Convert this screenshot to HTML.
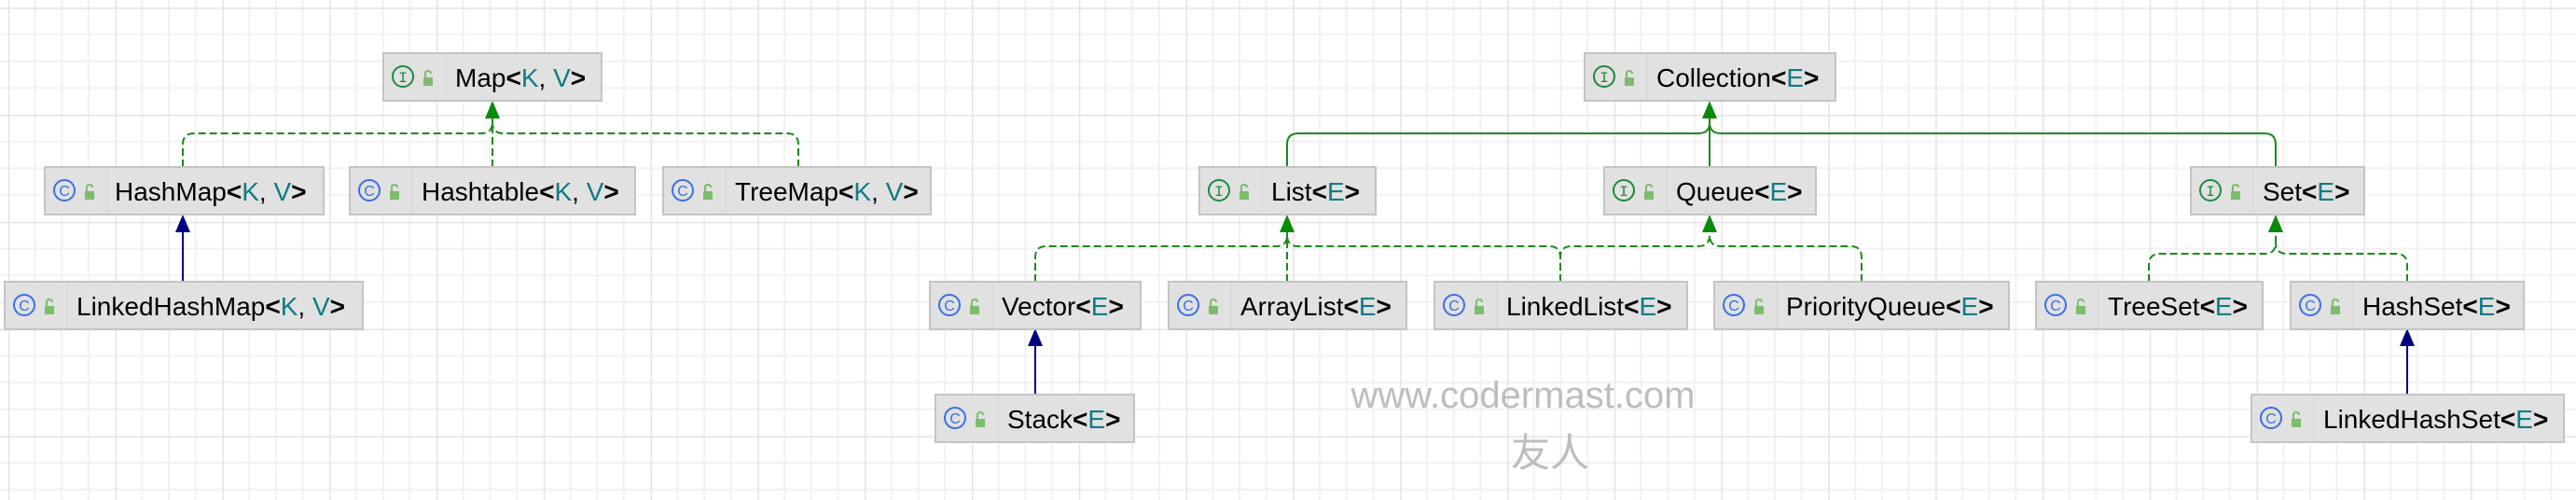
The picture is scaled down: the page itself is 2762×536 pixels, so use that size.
<!DOCTYPE html>
<html><head><meta charset="utf-8"><style>
html,body{margin:0;padding:0;background:#fff;}
svg{display:block;}
text{font-family:"Liberation Sans",sans-serif;}
</style></head><body>
<svg width="2762" height="536" viewBox="0 0 2762 536" xmlns="http://www.w3.org/2000/svg">
<defs>
<pattern id="g" x="8.8" y="8.2" width="114.8" height="114.8" patternUnits="userSpaceOnUse">
<g stroke="#f1f1f1" stroke-width="2">
<line x1="28.7" y1="0" x2="28.7" y2="114.8"/><line x1="57.4" y1="0" x2="57.4" y2="114.8"/><line x1="86.1" y1="0" x2="86.1" y2="114.8"/>
<line y1="28.7" x1="0" y2="28.7" x2="114.8"/><line y1="57.4" x1="0" y2="57.4" x2="114.8"/><line y1="86.1" x1="0" y2="86.1" x2="114.8"/>
</g>
<g stroke="#e4e4e4" stroke-width="3">
<line x1="0" y1="0" x2="0" y2="114.8"/><line x1="0" y1="0" x2="114.8" y2="0"/>
</g>
</pattern>
<g id="lock"><rect x="-5" y="-2" width="10" height="9" fill="#7cbd6b"/><path d="M-3 -2 V-6 Q-3 -9 0 -9 Q3 -9 3 -6" fill="none" stroke="#7cbd6b" stroke-width="2"/></g>
</defs>
<rect width="2762" height="536" fill="url(#g)"/>

<!-- watermark -->
<text x="1633" y="437" font-size="40" fill="#bdbdbd" text-anchor="middle">www.codermast.com</text>
<text x="1662" y="500" font-size="42" fill="#bdbdbd" text-anchor="middle" style="font-family:'Liberation Sans','Noto Sans CJK SC',sans-serif">友人</text>

<!-- connectors -->
<g fill="none" stroke="#1a8a1a" stroke-width="2">
<g stroke-dasharray="8 4">
<path d="M196 179 V155 Q196 143 208 143 H516 Q528 143 528 131 V126"/>
<path d="M856 179 V155 Q856 143 844 143 H540 Q528 143 528 131"/>
<path d="M528 179 V126"/>
<path d="M1110 302 V276 Q1110 264 1122 264 H1368 Q1380 264 1380 252 V248"/>
<path d="M1380 302 V248"/>
<path d="M1673 302 V276 Q1673 264 1661 264 H1392 Q1380 264 1380 252"/>
<path d="M1673 302 V276 Q1673 264 1685 264 H1821 Q1833 264 1833 252 V248"/>
<path d="M1996 302 V276 Q1996 264 1984 264 H1845 Q1833 264 1833 252"/>
<path d="M2304 302 V284 Q2304 272 2316 272 H2428 Q2440 272 2440 260 V248"/>
<path d="M2581 302 V284 Q2581 272 2569 272 H2452 Q2440 272 2440 260"/>
</g>
<path d="M1380 179 V155 Q1380 143 1392 143 H1821 Q1833 143 1833 131 V126"/>
<path d="M1833 179 V126"/>
<path d="M2440 179 V155 Q2440 143 2428 143 H1845 Q1833 143 1833 131"/>
</g>
<g fill="#0a8a0a">
<path d="M528 108 L520 127 L536 127 Z"/>
<path d="M1833 108 L1825 127 L1841 127 Z"/>
<path d="M1380 230 L1372 249 L1388 249 Z"/>
<path d="M1833 230 L1825 249 L1841 249 Z"/>
<path d="M2440 230 L2432 249 L2448 249 Z"/>
</g>
<g stroke="#000080" stroke-width="2">
<line x1="196" y1="302" x2="196" y2="246"/>
<line x1="1110" y1="423" x2="1110" y2="368"/>
<line x1="2581" y1="423" x2="2581" y2="368"/>
</g>
<g fill="#000080">
<path d="M196 230 L188 249 L204 249 Z"/>
<path d="M1110 352 L1102 371 L1118 371 Z"/>
<path d="M2581 352 L2573 371 L2589 371 Z"/>
</g>

<!-- boxes -->
<g id="boxes" font-size="28">
<!-- template: rect, icon, lock, divider, text -->
<g transform="translate(411,57)"><rect x="0" y="0" width="234" height="51" fill="#e1e1e1" stroke="#c4c4c4" stroke-width="2"/><line x1="67" y1="1" x2="67" y2="50" stroke="#d4d4d4"/><circle cx="21" cy="25" r="11" fill="none" stroke="#1d8a3a" stroke-width="2"/><text x="21" y="31" font-size="16" fill="#1d8a3a" text-anchor="middle" style="font-family:'Liberation Mono',monospace">I</text><use href="#lock" x="48" y="28"/><text x="77" y="36"><tspan>Map</tspan><tspan font-weight="bold">&lt;</tspan><tspan fill="#0e7c86">K</tspan>, <tspan fill="#0e7c86">V</tspan><tspan font-weight="bold">&gt;</tspan></text></g>

<g transform="translate(1699,57)"><rect x="0" y="0" width="269" height="51" fill="#e1e1e1" stroke="#c4c4c4" stroke-width="2"/><line x1="67" y1="1" x2="67" y2="50" stroke="#d4d4d4"/><circle cx="21" cy="25" r="11" fill="none" stroke="#1d8a3a" stroke-width="2"/><text x="21" y="31" font-size="16" fill="#1d8a3a" text-anchor="middle" style="font-family:'Liberation Mono',monospace">I</text><use href="#lock" x="48" y="28"/><text x="77" y="36"><tspan>Collection</tspan><tspan font-weight="bold">&lt;</tspan><tspan fill="#0e7c86">E</tspan><tspan font-weight="bold">&gt;</tspan></text></g>

<g transform="translate(48,179)"><rect x="0" y="0" width="299" height="51" fill="#e1e1e1" stroke="#c4c4c4" stroke-width="2"/><line x1="67" y1="1" x2="67" y2="50" stroke="#d4d4d4"/><circle cx="21" cy="25" r="11" fill="none" stroke="#3b6fe6" stroke-width="2"/><text x="21" y="31" font-size="16" fill="#3b6fe6" text-anchor="middle">C</text><use href="#lock" x="48" y="28"/><text x="75" y="36"><tspan>HashMap</tspan><tspan font-weight="bold">&lt;</tspan><tspan fill="#0e7c86">K</tspan>, <tspan fill="#0e7c86">V</tspan><tspan font-weight="bold">&gt;</tspan></text></g>

<g transform="translate(375,179)"><rect x="0" y="0" width="306" height="51" fill="#e1e1e1" stroke="#c4c4c4" stroke-width="2"/><line x1="67" y1="1" x2="67" y2="50" stroke="#d4d4d4"/><circle cx="21" cy="25" r="11" fill="none" stroke="#3b6fe6" stroke-width="2"/><text x="21" y="31" font-size="16" fill="#3b6fe6" text-anchor="middle">C</text><use href="#lock" x="48" y="28"/><text x="77" y="36"><tspan>Hashtable</tspan><tspan font-weight="bold">&lt;</tspan><tspan fill="#0e7c86">K</tspan>, <tspan fill="#0e7c86">V</tspan><tspan font-weight="bold">&gt;</tspan></text></g>

<g transform="translate(711,179)"><rect x="0" y="0" width="287" height="51" fill="#e1e1e1" stroke="#c4c4c4" stroke-width="2"/><line x1="67" y1="1" x2="67" y2="50" stroke="#d4d4d4"/><circle cx="21" cy="25" r="11" fill="none" stroke="#3b6fe6" stroke-width="2"/><text x="21" y="31" font-size="16" fill="#3b6fe6" text-anchor="middle">C</text><use href="#lock" x="48" y="28"/><text x="77" y="36"><tspan>TreeMap</tspan><tspan font-weight="bold">&lt;</tspan><tspan fill="#0e7c86">K</tspan>, <tspan fill="#0e7c86">V</tspan><tspan font-weight="bold">&gt;</tspan></text></g>

<g transform="translate(1286,179)"><rect x="0" y="0" width="189" height="51" fill="#e1e1e1" stroke="#c4c4c4" stroke-width="2"/><line x1="67" y1="1" x2="67" y2="50" stroke="#d4d4d4"/><circle cx="21" cy="25" r="11" fill="none" stroke="#1d8a3a" stroke-width="2"/><text x="21" y="31" font-size="16" fill="#1d8a3a" text-anchor="middle" style="font-family:'Liberation Mono',monospace">I</text><use href="#lock" x="48" y="28"/><text x="77" y="36"><tspan>List</tspan><tspan font-weight="bold">&lt;</tspan><tspan fill="#0e7c86">E</tspan><tspan font-weight="bold">&gt;</tspan></text></g>

<g transform="translate(1720,179)"><rect x="0" y="0" width="227" height="51" fill="#e1e1e1" stroke="#c4c4c4" stroke-width="2"/><line x1="67" y1="1" x2="67" y2="50" stroke="#d4d4d4"/><circle cx="21" cy="25" r="11" fill="none" stroke="#1d8a3a" stroke-width="2"/><text x="21" y="31" font-size="16" fill="#1d8a3a" text-anchor="middle" style="font-family:'Liberation Mono',monospace">I</text><use href="#lock" x="48" y="28"/><text x="77" y="36"><tspan>Queue</tspan><tspan font-weight="bold">&lt;</tspan><tspan fill="#0e7c86">E</tspan><tspan font-weight="bold">&gt;</tspan></text></g>

<g transform="translate(2349,179)"><rect x="0" y="0" width="186" height="51" fill="#e1e1e1" stroke="#c4c4c4" stroke-width="2"/><line x1="67" y1="1" x2="67" y2="50" stroke="#d4d4d4"/><circle cx="21" cy="25" r="11" fill="none" stroke="#1d8a3a" stroke-width="2"/><text x="21" y="31" font-size="16" fill="#1d8a3a" text-anchor="middle" style="font-family:'Liberation Mono',monospace">I</text><use href="#lock" x="48" y="28"/><text x="77" y="36"><tspan>Set</tspan><tspan font-weight="bold">&lt;</tspan><tspan fill="#0e7c86">E</tspan><tspan font-weight="bold">&gt;</tspan></text></g>

<g transform="translate(5,302)"><rect x="0" y="0" width="384" height="51" fill="#e1e1e1" stroke="#c4c4c4" stroke-width="2"/><line x1="67" y1="1" x2="67" y2="50" stroke="#d4d4d4"/><circle cx="21" cy="25" r="11" fill="none" stroke="#3b6fe6" stroke-width="2"/><text x="21" y="31" font-size="16" fill="#3b6fe6" text-anchor="middle">C</text><use href="#lock" x="48" y="28"/><text x="77" y="36"><tspan>LinkedHashMap</tspan><tspan font-weight="bold">&lt;</tspan><tspan fill="#0e7c86">K</tspan>, <tspan fill="#0e7c86">V</tspan><tspan font-weight="bold">&gt;</tspan></text></g>

<g transform="translate(997,302)"><rect x="0" y="0" width="226" height="51" fill="#e1e1e1" stroke="#c4c4c4" stroke-width="2"/><line x1="67" y1="1" x2="67" y2="50" stroke="#d4d4d4"/><circle cx="21" cy="25" r="11" fill="none" stroke="#3b6fe6" stroke-width="2"/><text x="21" y="31" font-size="16" fill="#3b6fe6" text-anchor="middle">C</text><use href="#lock" x="48" y="28"/><text x="77" y="36"><tspan>Vector</tspan><tspan font-weight="bold">&lt;</tspan><tspan fill="#0e7c86">E</tspan><tspan font-weight="bold">&gt;</tspan></text></g>

<g transform="translate(1253,302)"><rect x="0" y="0" width="255" height="51" fill="#e1e1e1" stroke="#c4c4c4" stroke-width="2"/><line x1="67" y1="1" x2="67" y2="50" stroke="#d4d4d4"/><circle cx="21" cy="25" r="11" fill="none" stroke="#3b6fe6" stroke-width="2"/><text x="21" y="31" font-size="16" fill="#3b6fe6" text-anchor="middle">C</text><use href="#lock" x="48" y="28"/><text x="77" y="36"><tspan>ArrayList</tspan><tspan font-weight="bold">&lt;</tspan><tspan fill="#0e7c86">E</tspan><tspan font-weight="bold">&gt;</tspan></text></g>

<g transform="translate(1538,302)"><rect x="0" y="0" width="271" height="51" fill="#e1e1e1" stroke="#c4c4c4" stroke-width="2"/><line x1="67" y1="1" x2="67" y2="50" stroke="#d4d4d4"/><circle cx="21" cy="25" r="11" fill="none" stroke="#3b6fe6" stroke-width="2"/><text x="21" y="31" font-size="16" fill="#3b6fe6" text-anchor="middle">C</text><use href="#lock" x="48" y="28"/><text x="77" y="36"><tspan>LinkedList</tspan><tspan font-weight="bold">&lt;</tspan><tspan fill="#0e7c86">E</tspan><tspan font-weight="bold">&gt;</tspan></text></g>

<g transform="translate(1838,302)"><rect x="0" y="0" width="316" height="51" fill="#e1e1e1" stroke="#c4c4c4" stroke-width="2"/><line x1="67" y1="1" x2="67" y2="50" stroke="#d4d4d4"/><circle cx="21" cy="25" r="11" fill="none" stroke="#3b6fe6" stroke-width="2"/><text x="21" y="31" font-size="16" fill="#3b6fe6" text-anchor="middle">C</text><use href="#lock" x="48" y="28"/><text x="77" y="36"><tspan>PriorityQueue</tspan><tspan font-weight="bold">&lt;</tspan><tspan fill="#0e7c86">E</tspan><tspan font-weight="bold">&gt;</tspan></text></g>

<g transform="translate(2183,302)"><rect x="0" y="0" width="243" height="51" fill="#e1e1e1" stroke="#c4c4c4" stroke-width="2"/><line x1="67" y1="1" x2="67" y2="50" stroke="#d4d4d4"/><circle cx="21" cy="25" r="11" fill="none" stroke="#3b6fe6" stroke-width="2"/><text x="21" y="31" font-size="16" fill="#3b6fe6" text-anchor="middle">C</text><use href="#lock" x="48" y="28"/><text x="77" y="36"><tspan>TreeSet</tspan><tspan font-weight="bold">&lt;</tspan><tspan fill="#0e7c86">E</tspan><tspan font-weight="bold">&gt;</tspan></text></g>

<g transform="translate(2456,302)"><rect x="0" y="0" width="250" height="51" fill="#e1e1e1" stroke="#c4c4c4" stroke-width="2"/><line x1="67" y1="1" x2="67" y2="50" stroke="#d4d4d4"/><circle cx="21" cy="25" r="11" fill="none" stroke="#3b6fe6" stroke-width="2"/><text x="21" y="31" font-size="16" fill="#3b6fe6" text-anchor="middle">C</text><use href="#lock" x="48" y="28"/><text x="77" y="36"><tspan>HashSet</tspan><tspan font-weight="bold">&lt;</tspan><tspan fill="#0e7c86">E</tspan><tspan font-weight="bold">&gt;</tspan></text></g>

<g transform="translate(1003,423)"><rect x="0" y="0" width="213" height="51" fill="#e1e1e1" stroke="#c4c4c4" stroke-width="2"/><line x1="67" y1="1" x2="67" y2="50" stroke="#d4d4d4"/><circle cx="21" cy="25" r="11" fill="none" stroke="#3b6fe6" stroke-width="2"/><text x="21" y="31" font-size="16" fill="#3b6fe6" text-anchor="middle">C</text><use href="#lock" x="48" y="28"/><text x="77" y="36"><tspan>Stack</tspan><tspan font-weight="bold">&lt;</tspan><tspan fill="#0e7c86">E</tspan><tspan font-weight="bold">&gt;</tspan></text></g>

<g transform="translate(2414,423)"><rect x="0" y="0" width="335" height="51" fill="#e1e1e1" stroke="#c4c4c4" stroke-width="2"/><line x1="67" y1="1" x2="67" y2="50" stroke="#d4d4d4"/><circle cx="21" cy="25" r="11" fill="none" stroke="#3b6fe6" stroke-width="2"/><text x="21" y="31" font-size="16" fill="#3b6fe6" text-anchor="middle">C</text><use href="#lock" x="48" y="28"/><text x="77" y="36"><tspan>LinkedHashSet</tspan><tspan font-weight="bold">&lt;</tspan><tspan fill="#0e7c86">E</tspan><tspan font-weight="bold">&gt;</tspan></text></g>
</g>
</svg>
</body></html>
